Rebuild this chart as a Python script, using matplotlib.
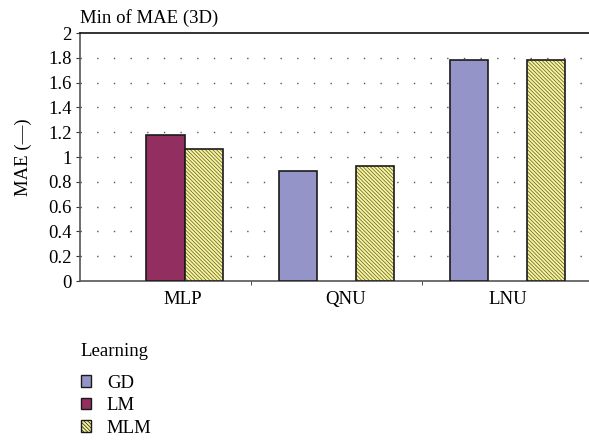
import matplotlib
matplotlib.use("Agg")
import matplotlib.pyplot as plt
import matplotlib.transforms as mtransforms
import numpy as np
from matplotlib.patches import Patch

plt.rcParams['font.family'] = ['Liberation Serif', 'DejaVu Serif']
plt.rcParams['hatch.linewidth'] = 0.5

categories = ["MLP", "QNU", "LNU"]
series = ["GD", "LM", "MLM"]
values = {
    "GD": [None, 0.885, 1.78],
    "LM": [1.175, None, None],
    "MLM": [1.065, 0.925, 1.78],
}
colors = {"GD": "#9494c8", "LM": "#932f60", "MLM": "#f8f49a"}
hatches = {"GD": None, "LM": None, "MLM": "\\\\\\\\\\\\\\\\\\"}
hatch_color = "#5a5a30"
yticks = [0, 0.2, 0.4, 0.6, 0.8, 1, 1.2, 1.4, 1.6, 1.8, 2]
ytick_labels = ["0", "0.2", "0.4", "0.6", "0.8", "1", "1.2", "1.4", "1.6", "1.8", "2"]

FS = 13.5
fig = plt.figure(figsize=(5.89, 4.45), dpi=100)
ax = fig.add_axes([80/589, 1-281/445, 509/589, (281-33)/445])

x = np.arange(len(categories))
width = 0.224
for i, s in enumerate(series):
    for j, v in enumerate(values[s]):
        if v is None:
            continue
        xpos = x[j] + (i-1)*width
        if hatches[s]:
            ax.bar(xpos, v, width, color=colors[s], edgecolor=hatch_color,
                   linewidth=0, hatch=hatches[s], zorder=3)
            ax.bar(xpos, v, width, fill=False, edgecolor="#1a1a1a",
                   linewidth=1.2, zorder=4)
        else:
            ax.bar(xpos, v, width, color=colors[s], edgecolor="#1a1a1a",
                   linewidth=1.2, zorder=3)

ax.set_xlim(-0.5, -0.5 + 509/171)
ax.set_ylim(0, 2)
ax.set_yticks(yticks)
ax.set_yticklabels(ytick_labels, fontsize=FS)
ax.set_xticks(x)
ax.set_xticklabels(categories, fontsize=FS)
ax.tick_params(axis='x', length=0, pad=7)
ax.set_xticks([0.5, 1.5], minor=True)
ax.tick_params(axis='x', which='minor', length=3, direction='out', color='#333333')
ax.tick_params(axis='y', length=3, direction='out', color='#333333', pad=3)

# Excel-like label placement offsets (pixels)
label_dx = [17, 9, 0]
for lbl, dx in zip(ax.get_xticklabels(), label_dx):
    lbl.set_transform(lbl.get_transform() + mtransforms.ScaledTranslation(dx/100, 0, fig.dpi_scale_trans))

for yv in yticks[1:-1]:
    ax.axhline(yv, color="#555555", linestyle=(0, (1, 11)), linewidth=1.0, zorder=1)

ax.spines["right"].set_visible(False)
ax.spines["top"].set_color("#111111")
ax.spines["top"].set_linewidth(1.2)
for sp in ["left", "bottom"]:
    ax.spines[sp].set_color("#555555")
    ax.spines[sp].set_linewidth(1.2)

ax.set_ylabel("MAE (—)", fontsize=FS, labelpad=12)
fig.text(80/589, 1-18/445, "Min of MAE (3D)", fontsize=FS, ha="left", va="center")

fig.text(80/589, 1-352/445, "Learning", fontsize=FS, ha="left", va="center")
handles = [Patch(facecolor=colors[s], edgecolor="#1a1a1a", hatch=hatches[s], linewidth=1.0) for s in series]
leg = fig.legend(handles, series, loc="upper left",
                 bbox_to_anchor=(73/589, 1-367/445), frameon=False, fontsize=FS,
                 handlelength=0.55, handleheight=0.55,
                 handletextpad=0.85, labelspacing=0.3, borderaxespad=0)

fig.savefig("out.png", dpi=100)
